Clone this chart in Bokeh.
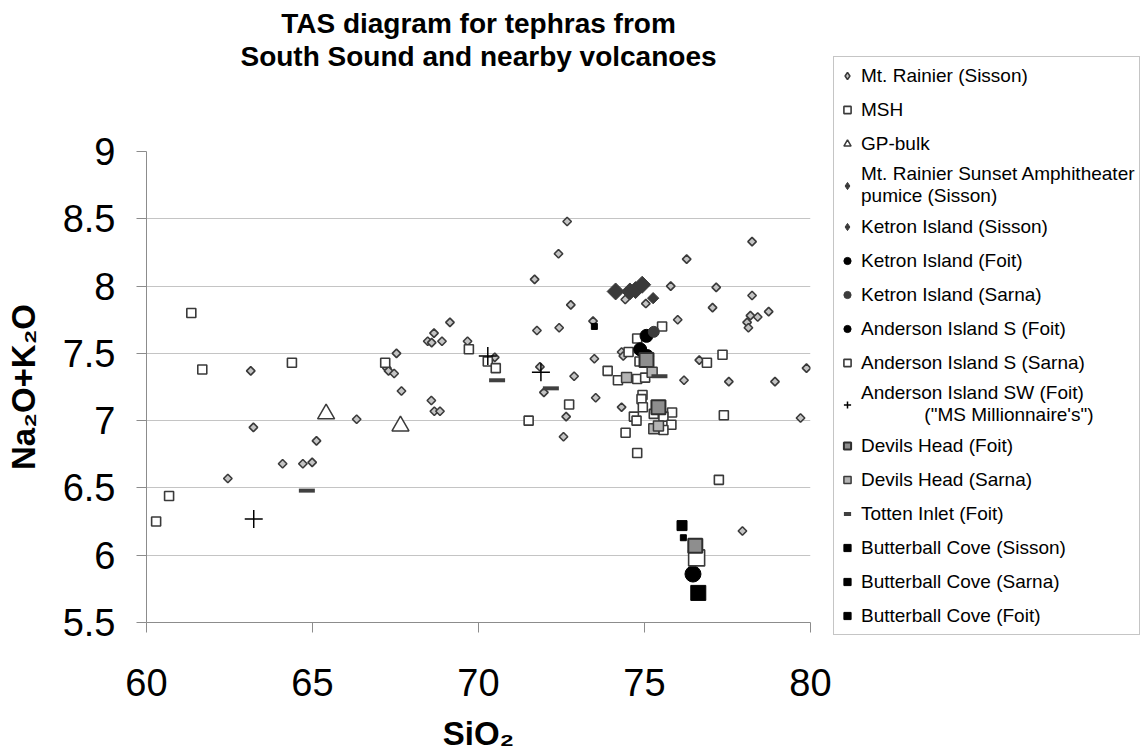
import math
from bokeh.plotting import figure
from bokeh.layouts import row
from bokeh.models import Legend, LegendItem, Title, FixedTicker, Range1d, NumeralTickFormatter
from bokeh.embed import file_html
from bokeh.resources import INLINE

# ---------------- data ----------------
x_ticks = [60, 65, 70, 75, 80]
y_ticks = [5.5, 6, 6.5, 7, 7.5, 8, 8.5, 9]

rainier_x = [63.14, 63.22, 62.45, 64.10, 64.71, 64.99, 65.12, 66.33, 72.67, 72.41, 71.69, 72.78,
             69.14, 68.66, 68.47, 68.59, 68.90, 69.67, 67.53, 71.76, 72.43, 67.24, 67.29, 67.46,
             67.68, 68.58, 68.67, 68.84, 70.49, 71.85, 71.97, 72.64, 72.56, 76.27, 74.42, 75.04,
             75.79, 73.45, 76.00, 74.31, 74.36, 73.49, 76.65, 72.88, 76.19, 73.53, 74.31, 78.24,
             77.16, 78.24, 77.05, 78.74, 78.19, 78.41, 78.09, 78.13, 79.88, 77.54, 78.93, 79.70, 77.95]
rainier_y = [7.37, 6.95, 6.57, 6.68, 6.68, 6.69, 6.85, 7.01, 8.48, 8.24, 8.05, 7.86,
             7.73, 7.65, 7.59, 7.58, 7.59, 7.59, 7.50, 7.67, 7.69, 7.39, 7.37, 7.35,
             7.22, 7.15, 7.07, 7.07, 7.47, 7.40, 7.21, 7.03, 6.88, 8.20, 7.90, 7.87,
             8.00, 7.74, 7.75, 7.51, 7.48, 7.46, 7.45, 7.33, 7.30, 7.17, 7.10, 8.33,
             7.99, 7.93, 7.84, 7.81, 7.78, 7.77, 7.73, 7.69, 7.39, 7.29, 7.29, 7.02, 6.18]

msh_x = [61.35, 61.68, 64.38, 60.68, 60.29, 67.19, 69.71, 70.28, 70.52, 71.51, 72.73, 75.53,
         74.78, 74.52, 74.85, 73.89, 74.20, 74.78, 75.02, 74.94, 74.91, 74.95, 74.68, 74.76,
         74.43, 74.78, 75.28, 75.83, 75.57, 75.81, 75.57, 76.88, 77.35, 77.39, 77.24]
msh_y = [7.80, 7.38, 7.43, 6.44, 6.25, 7.43, 7.53, 7.44, 7.39, 7.00, 7.12, 7.70,
         7.61, 7.51, 7.44, 7.37, 7.30, 7.31, 7.32, 7.19, 7.16, 7.10, 7.03, 7.00,
         6.91, 6.76, 7.05, 7.06, 7.03, 6.97, 6.93, 7.43, 7.49, 7.04, 6.56]

gp_x = [65.41, 67.65]
gp_y = [7.05, 6.96]

sunset_x = [75.26]
sunset_y = [7.91]

ketron_sisson_x = [74.13, 74.56, 74.73, 74.93]
ketron_sisson_y = [7.96, 7.96, 7.97, 8.01]

ketron_foit_x = [75.06, 74.87, 75.08]
ketron_foit_y = [7.63, 7.53, 7.48]

ketron_sarna_x = [75.28]
ketron_sarna_y = [7.66]

anderson_s_foit_x = [76.46]
anderson_s_foit_y = [5.86]

anderson_s_sarna_x = [76.57]
anderson_s_sarna_y = [5.98]

anderson_sw_x = [63.23, 70.28, 71.88]
anderson_sw_y = [6.27, 7.48, 7.36]

devils_foit_x = [75.06, 75.42, 76.53]
devils_foit_y = [7.45, 7.10, 6.07]

devils_sarna_x = [74.46, 75.23, 75.28, 75.42]
devils_sarna_y = [7.32, 7.36, 6.94, 6.96]

totten_x = [64.83, 70.56, 72.18, 75.45]
totten_y = [6.48, 7.30, 7.24, 7.33]

bb_sisson_x = [76.13]
bb_sisson_y = [6.22]

bb_sarna_x = [73.49, 76.17]
bb_sarna_y = [7.70, 6.13]

bb_foit_x = [76.62]
bb_foit_y = [5.72]

FONT = "Liberation Sans"
DARK = "#3a3a3a"

# name, x, y, marker (plot), marker (legend key), rotate 45deg, style
series = [
    ("Mt. Rainier (Sisson)", rainier_x, rainier_y, "square", "diamond", True,
     dict(size=6, fill_color="#c4c4c4", line_color=DARK, line_width=1.6)),
    ("MSH", msh_x, msh_y, "square", "square", False,
     dict(size=9, fill_color="white", line_color=DARK, line_width=1.6)),
    ("GP-bulk", gp_x, gp_y, "triangle", "triangle", False,
     dict(size=17, fill_color="white", line_color=DARK, line_width=1.5)),
    ("Mt. Rainier Sunset Amphitheater\npumice (Sisson)", sunset_x, sunset_y, "square", "diamond", True,
     dict(size=8, fill_color=DARK, line_color=DARK, line_width=1)),
    ("Ketron Island (Sisson)", ketron_sisson_x, ketron_sisson_y, "square", "diamond", True,
     dict(size=12, fill_color=DARK, line_color=DARK, line_width=1)),
    ("Ketron Island (Foit)", ketron_foit_x, ketron_foit_y, "circle", "circle", False,
     dict(size=13, fill_color="black", line_color="black")),
    ("Ketron Island (Sarna)", ketron_sarna_x, ketron_sarna_y, "circle", "circle", False,
     dict(size=11, fill_color="#3c3c3c", line_color="#3c3c3c")),
    ("Anderson Island S (Foit)", anderson_s_foit_x, anderson_s_foit_y, "circle", "circle", False,
     dict(size=16, fill_color="black", line_color="black")),
    ("Anderson Island S (Sarna)", anderson_s_sarna_x, anderson_s_sarna_y, "square", "square", False,
     dict(size=16, fill_color="white", line_color=DARK, line_width=1.6)),
    ("Anderson Island SW (Foit)\n            (\"MS Millionnaire's\")", anderson_sw_x, anderson_sw_y, "cross", "cross", False,
     dict(size=18, line_color="black", line_width=1.5)),
    ("Devils Head (Foit)", devils_foit_x, devils_foit_y, "square", "square", False,
     dict(size=14, fill_color="#8e8e8e", line_color="#2e2e2e", line_width=2)),
    ("Devils Head (Sarna)", devils_sarna_x, devils_sarna_y, "square", "square", False,
     dict(size=10, fill_color="#b4b4b4", line_color=DARK, line_width=1.5)),
    ("Totten Inlet (Foit)", totten_x, totten_y, "dash", "dash", False,
     dict(size=16, line_color="#404040", line_width=4)),
    ("Butterball Cove (Sisson)", bb_sisson_x, bb_sisson_y, "square", "square", False,
     dict(size=10, fill_color="black", line_color="black")),
    ("Butterball Cove (Sarna)", bb_sarna_x, bb_sarna_y, "square", "square", False,
     dict(size=6, fill_color="black", line_color="black")),
    ("Butterball Cove (Foit)", bb_foit_x, bb_foit_y, "square", "square", False,
     dict(size=15, fill_color="black", line_color="black")),
]

# ---------------- main figure ----------------
p = figure(width=833, height=754, x_range=Range1d(60, 80), y_range=Range1d(5.5, 9),
           output_backend="svg", toolbar_location=None,
           min_border_left=146, min_border_right=23, min_border_top=151, min_border_bottom=128)
p.outline_line_color = None
p.background_fill_color = "white"
p.border_fill_color = "white"

p.xgrid.grid_line_color = None
p.ygrid.grid_line_color = "#c4c4c4"
p.ygrid.grid_line_width = 1

for ax in (p.xaxis[0], p.yaxis[0]):
    ax.axis_line_color = "#8c8c8c"
    ax.major_tick_line_color = "#8c8c8c"
    ax.minor_tick_line_color = None
    ax.major_tick_in = 0
    ax.major_tick_out = 10
    ax.major_label_text_font = FONT
    ax.major_label_text_font_size = "38px"
    ax.major_label_text_color = "black"
    ax.axis_label_text_font = FONT
    ax.axis_label_text_font_style = "bold"
    ax.axis_label_text_font_size = "33px"
    ax.axis_label_text_color = "black"

p.xaxis.ticker = FixedTicker(ticks=x_ticks)
p.yaxis.ticker = FixedTicker(ticks=y_ticks)
p.yaxis.formatter = NumeralTickFormatter(format="0.[0]")
p.xaxis.major_label_standoff = 36
p.yaxis.major_label_standoff = 21
p.xaxis.axis_label = "SiO₂"
p.yaxis.axis_label = "Na₂O+K₂O"
p.xaxis.axis_label_standoff = 16
p.yaxis.axis_label_standoff = 18

# titles stack upward from the frame: spacer, second line, first line
spacer = Title(text=" ", text_font=FONT, text_font_size="28px", standoff=47)
t2 = Title(text="South Sound and nearby volcanoes", align="center",
           text_font=FONT, text_font_style="bold", text_font_size="28px",
           text_color="black", standoff=0)
t1 = Title(text="TAS diagram for tephras from", align="center",
           text_font=FONT, text_font_style="bold", text_font_size="28px",
           text_color="black", standoff=0)
p.add_layout(spacer, "above")
p.add_layout(t2, "above")
p.add_layout(t1, "above")

Q = math.pi / 4
for name, xs, ys, mk, lmk, rot, st in series:
    p.scatter(xs, ys, marker=mk, angle=(Q if rot else 0), **st)

# ---------------- legend panel (same series, keys only) ----------------
q = figure(width=310, height=754, x_range=Range1d(0, 1), y_range=Range1d(0, 1),
           output_backend="svg", toolbar_location=None,
           x_axis_type=None, y_axis_type=None,
           min_border_left=0, min_border_right=0, min_border_top=0, min_border_bottom=0)
q.outline_line_color = None
q.xgrid.grid_line_color = None
q.ygrid.grid_line_color = None
q.background_fill_color = "white"
q.border_fill_color = "white"
for fig in (p, q):
    try:
        fig.frame_align = False
    except Exception:
        pass

legend_items = []
for name, xs, ys, mk, lmk, rot, st in series:
    r = q.scatter(xs, ys, marker=lmk, **st)
    legend_items.append(LegendItem(label=name, renderers=[r]))

legend = Legend(items=legend_items, location=(0, 119), orientation="vertical",
                label_text_font=FONT, label_text_font_size="19px", label_text_color="black",
                label_text_line_height=1.0,
                glyph_width=18, glyph_height=29, label_height=29, label_standoff=5,
                spacing=5, padding=4, margin=0,
                border_line_color="#8c8c8c", border_line_width=1,
                background_fill_color="white", background_fill_alpha=1)
q.add_layout(legend, "center")

layout = row(p, q)
open("out.html", "w").write(file_html(layout, INLINE))
